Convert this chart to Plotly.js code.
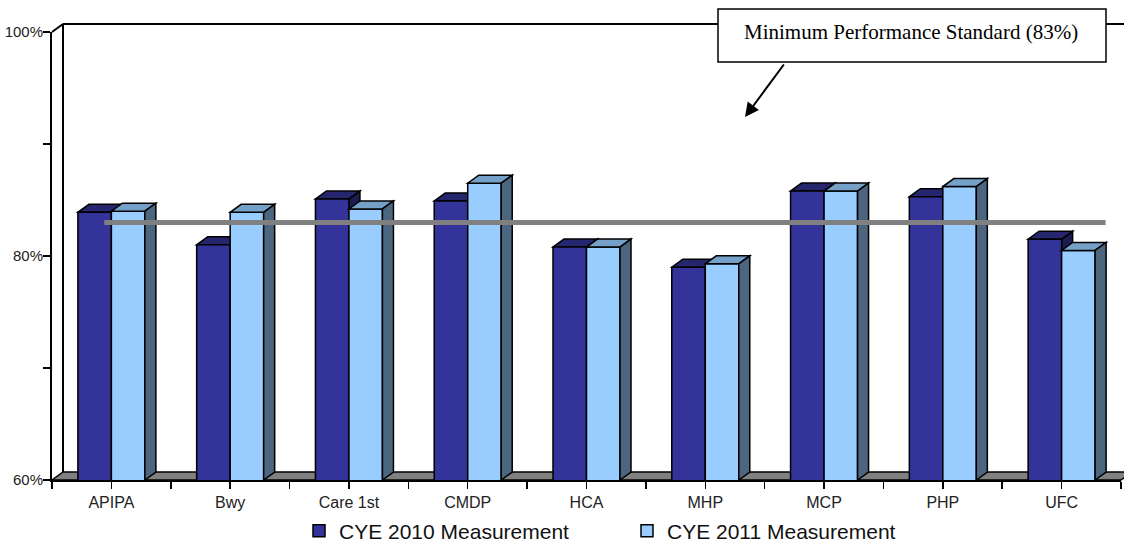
<!DOCTYPE html>
<html><head><meta charset="utf-8">
<script src="https://cdn.plot.ly/plotly-3.0.1.min.js"></script>
<style>html,body{margin:0;padding:0;background:#fff;} #chart{width:1124px;height:542px;}</style>
</head><body><div id="chart"></div>
<script>
const categories = ['APIPA','Bwy','Care 1st','CMDP','HCA','MHP','MCP','PHP','UFC'];
const cye2010 = [83.9, 81.0, 85.1, 84.9, 80.8, 79.0, 85.8, 85.3, 81.5];
const cye2011 = [84.0, 83.9, 84.2, 86.5, 80.8, 79.3, 85.8, 86.2, 80.5];
const standard = 83;
const standardLabel = 'Minimum Performance Standard (83%)';
const yTickVals = [60, 70, 80, 90, 100];
const yTickText = ['60%', '', '80%', '', '100%'];
const seriesNames = ['CYE 2010 Measurement', 'CYE 2011 Measurement'];

const W = 1124, H = 542, M = {l: 52, r: 3, t: 32, b: 62, autoexpand: false};
const plotW = W - M.l - M.r, plotH = H - M.t - M.b;
const yMin = 60, yMax = 100;
const nCat = categories.length;
const pxCat = plotW / nCat, pxPct = plotH / (yMax - yMin);
const DX = 11, DY = 8;
const dxU = DX / pxCat, dyU = DY / pxPct;
const barW = 33.5 / pxCat;
const idx = categories.map((c, i) => i);
const px = x => (x - M.l) / plotW;
const py = y => (H - M.b - y) / plotH;

const c2010 = {front: '#333399', top: '#26266f', side: '#1c1c50'};
const c2011 = {front: '#99ccff', top: '#75a0c8', side: '#4d6680'};

function topFace(x0, x1, v) {
  return `M${x0},${v} L${x1},${v} L${x1 + dxU},${v + dyU} L${x0 + dxU},${v + dyU} Z`;
}
function sideFace(x1, v) {
  return `M${x1},${yMin} L${x1},${v} L${x1 + dxU},${v + dyU} L${x1 + dxU},${yMin + dyU} Z`;
}

const shapes = [];
// floor
shapes.push({type: 'path', xref: 'paper', yref: 'paper', layer: 'below',
  path: `M${px(M.l)},${py(H - M.b)} L${px(W - M.r)},${py(H - M.b)} L${px(W - M.r + DX)},${py(H - M.b - DY)} L${px(M.l + DX)},${py(H - M.b - DY)} Z`,
  fillcolor: '#808080', line: {color: 'black', width: 1.5}});
// back wall lines
shapes.push({type: 'line', xref: 'paper', yref: 'paper', layer: 'below',
  x0: px(M.l + DX), y0: py(H - M.b - DY), x1: px(M.l + DX), y1: py(M.t - DY), line: {color: 'black', width: 2}});
shapes.push({type: 'line', xref: 'paper', yref: 'paper', layer: 'below',
  x0: px(M.l + DX), y0: py(M.t - DY), x1: px(W + 20), y1: py(M.t - DY), line: {color: 'black', width: 2}});
shapes.push({type: 'line', xref: 'paper', yref: 'paper', layer: 'below',
  x0: px(M.l), y0: py(M.t), x1: px(M.l + DX), y1: py(M.t - DY), line: {color: 'black', width: 2}});

// 2010 hidden faces (behind 2011 bars)
idx.forEach(i => {
  const x0 = i - barW, x1 = i, v = cye2010[i];
  shapes.push({type: 'path', xref: 'x', yref: 'y', layer: 'below', path: sideFace(x1, v),
    fillcolor: c2010.side, line: {color: 'black', width: 1.5}});
  shapes.push({type: 'path', xref: 'x', yref: 'y', layer: 'below', path: topFace(x0, x1, v),
    fillcolor: c2010.top, line: {color: 'black', width: 1.5}});
});
// 2011 faces
idx.forEach(i => {
  const x0 = i, x1 = i + barW, v = cye2011[i];
  shapes.push({type: 'path', xref: 'x', yref: 'y', layer: 'above', path: topFace(x0, x1, v),
    fillcolor: c2011.top, line: {color: 'black', width: 1.5}});
  shapes.push({type: 'path', xref: 'x', yref: 'y', layer: 'above', path: sideFace(x1, v),
    fillcolor: c2011.side, line: {color: 'black', width: 1.5}});
});
// standard line
shapes.push({type: 'line', xref: 'x', yref: 'y', layer: 'above',
  x0: -0.06, x1: nCat - 0.63, y0: standard, y1: standard, line: {color: '#808080', width: 5}});
// callout box
shapes.push({type: 'rect', xref: 'paper', yref: 'paper', layer: 'above',
  x0: px(718), x1: px(1106), y0: py(9), y1: py(62),
  fillcolor: 'white', line: {color: 'black', width: 1.5}});

const traces = [
  {type: 'bar', x: idx, y: cye2010, name: seriesNames[0], offset: -barW, width: barW,
   marker: {color: c2010.front, line: {color: 'black', width: 1.5}}, hoverinfo: 'y'},
  {type: 'bar', x: idx, y: cye2011, name: seriesNames[1], offset: 0, width: barW,
   marker: {color: c2011.front, line: {color: 'black', width: 1.5}}, hoverinfo: 'y'}
];

const layout = {
  width: W, height: H, margin: M,
  paper_bgcolor: 'white', plot_bgcolor: 'rgba(0,0,0,0)',
  barmode: 'overlay',
  font: {family: 'Liberation Sans, Arial, sans-serif', color: 'black'},
  xaxis: {range: [-0.5, nCat - 0.5], tickmode: 'array', tickvals: idx, ticktext: categories,
    ticks: 'outside', ticklen: 7, tickwidth: 1.5, tickcolor: 'black',
    showline: true, linewidth: 2, linecolor: 'black', showgrid: false, zeroline: false,
    tickfont: {size: 16, color: '#222'}, automargin: false,
    minor: {tickmode: 'array', tickvals: categories.concat(['']).map((c, i) => i - 0.5),
      ticks: 'outside', ticklen: 7, tickwidth: 1.5, tickcolor: 'black', showgrid: false}},
  yaxis: {range: [yMin, yMax], tickmode: 'array', tickvals: yTickVals, ticktext: yTickText,
    ticks: 'outside', ticklen: 7, tickwidth: 1.5, tickcolor: 'black', automargin: false,
    showline: true, linewidth: 2, linecolor: 'black', showgrid: false, zeroline: false,
    ticklabelstandoff: -3,
    tickfont: {size: 15, color: '#222'}},
  showlegend: true,
  legend: {orientation: 'h', x: px(299), xanchor: 'left', y: py(531), yanchor: 'middle',
    font: {size: 21, color: '#111'}, entrywidth: 283, entrywidthmode: 'pixels',
    bgcolor: 'rgba(0,0,0,0)', traceorder: 'normal'},
  shapes: shapes,
  annotations: [
    {xref: 'paper', yref: 'paper', x: px(911), y: py(32), xanchor: 'center', yanchor: 'middle',
     text: standardLabel, showarrow: false,
     font: {family: 'Liberation Serif, Times New Roman, serif', size: 21, color: 'black'}},
    {xref: 'paper', yref: 'paper', x: px(745), y: py(117), text: '', showarrow: true,
     ax: 40, ay: -54, arrowhead: 2, arrowsize: 1.4, arrowwidth: 2, arrowcolor: 'black', standoff: 0}
  ]
};

Plotly.newPlot('chart', traces, layout, {displayModeBar: false, staticPlot: true});
</script>
</body></html>
